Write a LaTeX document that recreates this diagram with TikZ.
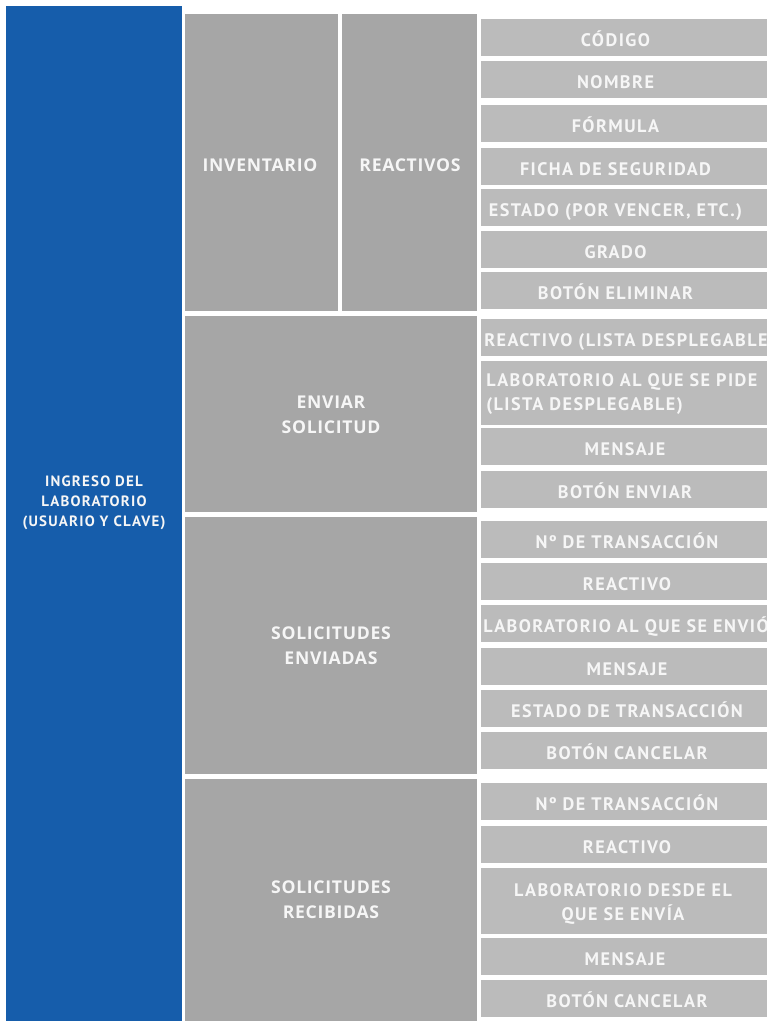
\documentclass[tikz,border=0pt]{standalone}
\usepackage{fontspec}
\usepackage{tikz}
\newfontfamily\leaffont{PT Sans}[LetterSpace=8]
\newfontfamily\midfont{Open Sans}[LetterSpace=4]
\definecolor{ingreso}{RGB}{22,93,171}
\definecolor{grismed}{RGB}{166,166,166}
\definecolor{grisclaro}{RGB}{187,187,187}
\definecolor{blanco}{RGB}{246,246,246}

\tikzset{
  bluebox/.style={fill=ingreso},
  midbox/.style={fill=grismed},
  leafbox/.style={fill=grisclaro},
  midtxt/.style={text=blanco,inner sep=0pt,align=center,
    font=\midfont\bfseries\fontsize{13.2}{18.75}\selectfont},
  leaftxt/.style={text=blanco,inner sep=0pt,anchor=base,
    font=\leaffont\bfseries\fontsize{13.6}{17.5}\selectfont},
  bluetxt/.style={text=blanco,inner sep=0pt,align=center,
    font=\leaffont\bfseries\fontsize{11.2}{15}\selectfont}
}

\begin{document}
\begin{tikzpicture}[x=0.75pt,y=-0.75pt]
  \clip (0,0) rectangle (767,1021);
  \fill[white] (0,0) rectangle (767,1021);
  % ---------------- ingreso ----------------
  \fill[bluebox] (6,6) rectangle (182,1021);
  \node[bluetxt] (ingreso) at (94,503) {INGRESO DEL\\LABORATORIO\\(USUARIO Y CLAVE)};
  % ---------------- middle column ----------------
  \fill[midbox] (185,14) rectangle (338,311);
  \fill[midbox] (342,14) rectangle (477,311);
  \fill[midbox] (185,316) rectangle (477,512);
  \fill[midbox] (185,517) rectangle (477,774);
  \fill[midbox] (185,779) rectangle (477,1021);
  \node[midtxt] (inventario) at (260,165) {INVENTARIO};
  \node[midtxt] (reactivos) at (410,165) {REACTIVOS};
  \node[midtxt] (enviar) at (331,415) {ENVIAR\\SOLICITUD};
  \node[midtxt] (enviadas) at (331,646) {SOLICITUDES\\ENVIADAS};
  \node[midtxt] (recibidas) at (331,900) {SOLICITUDES\\RECIBIDAS};
  % ---------------- fields ----------------
  \foreach \n/\yt/\cx/\txt in {
      cod/19/615.5/CÓDIGO, nom/61/615.5/NOMBRE, form/105/615.5/FÓRMULA,
      ficha/148/615.5/FICHA DE SEGURIDAD,
      est/189/615.5/{ESTADO (POR VENCER, ETC.)},
      grado/231/615.5/GRADO, elim/272/615.5/BOTÓN ELIMINAR,
      msjA/428/625/MENSAJE, envbtn/471/625/BOTÓN ENVIAR,
      transB/521/627/Nº DE TRANSACCIÓN, reacB/563/627/REACTIVO,
      msjB/648/627/MENSAJE, estB/690/627/ESTADO DE TRANSACCIÓN,
      cancB/732/627/BOTÓN CANCELAR,
      transC/783/627/Nº DE TRANSACCIÓN, reacC/826/627/REACTIVO,
      msjC/938/625/MENSAJE, cancC/980/627/BOTÓN CANCELAR} {
    \fill[leafbox] (481,\yt) rectangle (767,\yt+37);
    \node[leaftxt] (\n) at (\cx,\yt+27) {\txt};
  }
  \fill[leafbox] (481,319) rectangle (767,356);
  \node[leaftxt,anchor=base west] (reacA) at (484,346) {REACTIVO (LISTA DESPLEGABLE)};
  \fill[leafbox] (481,361) rectangle (767,425);
  \node[leaftxt,anchor=west,align=left] (labA) at (486,394) {LABORATORIO AL QUE SE PIDE\\(LISTA DESPLEGABLE)};
  \fill[leafbox] (481,605) rectangle (767,642);
  \node[leaftxt,anchor=base west] (labB) at (483,632) {LABORATORIO AL QUE SE ENVIÓ};
  \fill[leafbox] (481,868) rectangle (767,934);
  \node[leaftxt,anchor=center,align=center,
    font=\leaffont\bfseries\fontsize{13.6}{18}\selectfont] (labC) at (623,904) {LABORATORIO DESDE EL\\QUE SE ENVÍA};
\end{tikzpicture}
\end{document}
